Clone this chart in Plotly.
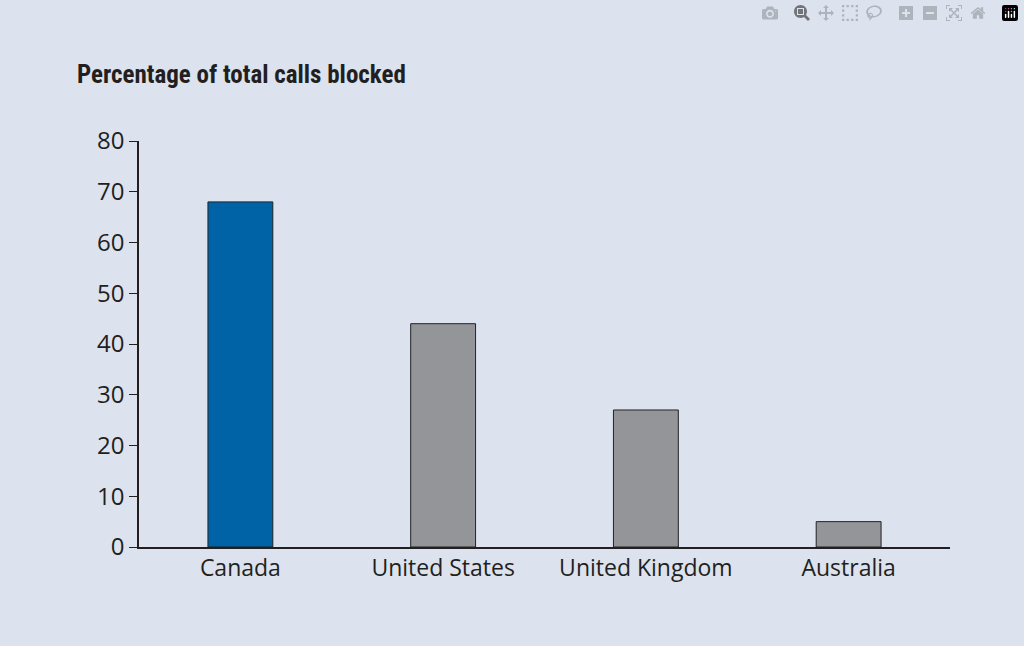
import plotly.graph_objects as go

countries = ["Canada", "United States", "United Kingdom", "Australia"]
blocked_pct = [68, 44, 27, 5]
bar_colors = ["#0063a6", "#939598", "#939598", "#939598"]

bg = "#dce3ef"

fig = go.Figure()
fig.add_trace(go.Bar(
    x=countries,
    y=blocked_pct,
    marker=dict(color=bar_colors, line=dict(color="#222222", width=1)),
    width=0.32,
))

fig.update_layout(
    width=1024, height=646,
    paper_bgcolor=bg, plot_bgcolor=bg,
    margin=dict(l=139, r=74, t=141, b=99),
    showlegend=False,
    font=dict(family="Open Sans, Liberation Sans, sans-serif", color="#231f20"),
    xaxis=dict(
        showline=True, linecolor="#231f20", linewidth=1.5,
        ticks="", tickfont=dict(size=23), showgrid=False,
    ),
    yaxis=dict(
        range=[0, 80], dtick=10, showline=True, linecolor="#231f20", linewidth=1.5,
        ticks="outside", ticklen=8, tickcolor="#231f20", showgrid=False,
        tickfont=dict(size=24), zeroline=False,
    ),
    annotations=[dict(
        text="<b>Percentage of total calls blocked</b>",
        xref="paper", yref="paper", x=-0.079, y=1.165,
        xanchor="left", yanchor="middle", showarrow=False,
        font=dict(size=25, family="Roboto Condensed, Liberation Sans Narrow, Liberation Sans, sans-serif", color="#231f20"),
    )],
)

# plain page, no body margin
fig.write_html("out.html", post_script="document.body.style.margin='0';")
